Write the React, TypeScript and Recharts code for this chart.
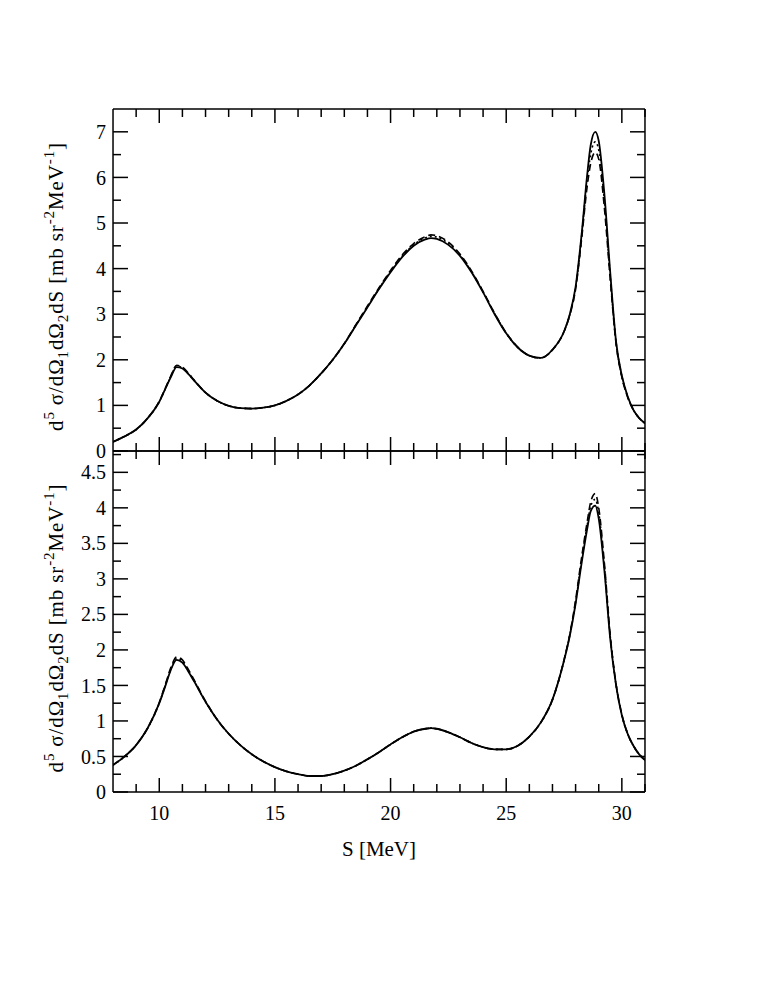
import React from 'react';
import { LineChart, Line, XAxis, YAxis, Label } from 'recharts';

// energy grid S [MeV]
const sGrid = [
  8, 8.5, 9, 9.5, 10, 10.25, 10.5, 10.75, 11, 11.25, 11.5, 12, 12.5, 13, 13.5, 14, 14.5, 15, 15.5, 16,
  16.5, 17, 17.5, 18, 18.5, 19, 19.5, 20, 20.5, 21, 21.5, 21.75, 22, 22.5, 23, 23.5, 24, 24.5, 25, 25.5,
  26, 26.5, 27, 27.5, 27.75, 28, 28.25, 28.5, 28.65, 28.85, 29, 29.25, 29.5, 29.75, 30, 30.25, 30.5, 30.75, 31,
];

const topSolid = [
  0.2, 0.32, 0.47, 0.72, 1.08, 1.35, 1.62, 1.84, 1.81, 1.69, 1.55, 1.28, 1.1, 0.99, 0.94, 0.93, 0.95, 1.0, 1.1, 1.24,
  1.44, 1.7, 2.0, 2.35, 2.75, 3.15, 3.55, 3.92, 4.25, 4.5, 4.64, 4.67, 4.65, 4.52, 4.28, 3.92, 3.48, 3.0, 2.58, 2.27,
  2.09, 2.04, 2.22, 2.62, 3.0, 3.6, 4.7, 6.05, 6.7, 7.0, 6.8, 5.6, 3.9, 2.4, 1.65, 1.2, 0.9, 0.72, 0.61,
];
const topDashed = [
  0.2, 0.32, 0.47, 0.72, 1.09, 1.36, 1.65, 1.88, 1.84, 1.71, 1.56, 1.28, 1.1, 0.99, 0.94, 0.93, 0.95, 1.0, 1.1, 1.24,
  1.44, 1.7, 2.0, 2.36, 2.77, 3.18, 3.58, 3.96, 4.3, 4.55, 4.7, 4.74, 4.72, 4.58, 4.32, 3.95, 3.5, 3.02, 2.59, 2.28,
  2.09, 2.04, 2.22, 2.62, 2.98, 3.55, 4.6, 5.8, 6.3, 6.55, 6.4, 5.3, 3.75, 2.35, 1.62, 1.18, 0.9, 0.72, 0.61,
];
const topDotted = [
  0.2, 0.32, 0.47, 0.72, 1.08, 1.35, 1.63, 1.86, 1.82, 1.7, 1.55, 1.28, 1.1, 0.99, 0.94, 0.93, 0.95, 1.0, 1.1, 1.24,
  1.44, 1.7, 2.0, 2.35, 2.76, 3.16, 3.56, 3.94, 4.27, 4.52, 4.67, 4.71, 4.69, 4.55, 4.3, 3.93, 3.49, 3.01, 2.58, 2.27,
  2.09, 2.04, 2.22, 2.62, 2.99, 3.57, 4.65, 5.95, 6.5, 6.78, 6.6, 5.45, 3.82, 2.38, 1.64, 1.19, 0.9, 0.72, 0.61,
];

const botSolid = [
  0.38, 0.5, 0.66, 0.9, 1.25, 1.48, 1.72, 1.86, 1.82, 1.7, 1.56, 1.27, 1.02, 0.82, 0.66, 0.53, 0.43, 0.35, 0.29, 0.25,
  0.225, 0.225, 0.25, 0.3, 0.37, 0.46, 0.56, 0.67, 0.77, 0.85, 0.89, 0.9, 0.89, 0.84, 0.77, 0.69, 0.63, 0.6, 0.6, 0.65,
  0.78, 0.98, 1.3, 1.85, 2.2, 2.65, 3.2, 3.7, 3.95, 4.03, 3.85, 3.1, 2.15, 1.5, 1.08, 0.82, 0.65, 0.53, 0.45,
];
const botDashed = [
  0.38, 0.5, 0.66, 0.9, 1.26, 1.5, 1.75, 1.9, 1.86, 1.73, 1.58, 1.28, 1.02, 0.82, 0.66, 0.53, 0.43, 0.35, 0.29, 0.25,
  0.225, 0.225, 0.25, 0.3, 0.37, 0.46, 0.56, 0.67, 0.77, 0.85, 0.89, 0.9, 0.89, 0.84, 0.77, 0.69, 0.63, 0.6, 0.6, 0.65,
  0.78, 0.98, 1.3, 1.86, 2.22, 2.7, 3.28, 3.8, 4.08, 4.2, 4.0, 3.2, 2.2, 1.52, 1.09, 0.82, 0.65, 0.53, 0.45,
];
const botDotted = [
  0.38, 0.5, 0.66, 0.9, 1.25, 1.49, 1.73, 1.88, 1.84, 1.71, 1.57, 1.27, 1.02, 0.82, 0.66, 0.53, 0.43, 0.35, 0.29, 0.25,
  0.225, 0.225, 0.25, 0.3, 0.37, 0.46, 0.56, 0.67, 0.77, 0.85, 0.89, 0.9, 0.89, 0.84, 0.77, 0.69, 0.63, 0.6, 0.6, 0.65,
  0.78, 0.98, 1.3, 1.85, 2.21, 2.67, 3.24, 3.75, 4.02, 4.12, 3.93, 3.15, 2.18, 1.51, 1.08, 0.82, 0.65, 0.53, 0.45,
];

const xMajor = [10, 15, 20, 25, 30];
const xMinor = [9, 11, 12, 13, 14, 16, 17, 18, 19, 21, 22, 23, 24, 26, 27, 28, 29, 31];
const topYMajor = [0, 1, 2, 3, 4, 5, 6, 7];
const topYMinor = [0.5, 1.5, 2.5, 3.5, 4.5, 5.5, 6.5];
const botYMajor = [0, 0.5, 1, 1.5, 2, 2.5, 3, 3.5, 4, 4.5];
const botYMinor = [0.25, 0.75, 1.25, 1.75, 2.25, 2.75, 3.25, 3.75, 4.25, 4.75];

const FONT = '"Liberation Serif", "Times New Roman", serif';
const FS = 20;
const ink = { stroke: '#000', strokeWidth: 1.5 };
const tickText = { fill: '#000', fontSize: FS, fontFamily: FONT };
const THIN = 0.01; // axes must have a size > 0 to be drawn
const noLabel = () => <g />; // keep the tick line, drop the text

const makeRows = (a: number[], b: number[], c: number[]) =>
  sGrid.map((s, i) => ({ s, solid: a[i], dashed: b[i], dotted: c[i] }));

const topRows = makeRows(topSolid, topDashed, topDotted);
const botRows = makeRows(botSolid, botDashed, botDotted);

const YTitle = ({ viewBox }: any) => {
  const x = viewBox.x - 50;
  const y = viewBox.y + viewBox.height / 2 + 7;
  const sm = 15;
  return (
    <text x={x} y={y} transform={`rotate(-90 ${x} ${y})`} textAnchor="middle" fontFamily={FONT} fontSize={21}
      fill="#000" textLength={288} lengthAdjust="spacing">
      d<tspan dy={-9} fontSize={sm}>5</tspan>
      <tspan dy={9}> σ/dΩ</tspan>
      <tspan dy={5} fontSize={sm}>1</tspan>
      <tspan dy={-5}>dΩ</tspan>
      <tspan dy={5} fontSize={sm}>2</tspan>
      <tspan dy={-5}>dS [mb sr</tspan>
      <tspan dy={-9} fontSize={sm}>-2</tspan>
      <tspan dy={9}>MeV</tspan>
      <tspan dy={-9} fontSize={sm}>-1</tspan>
      <tspan dy={9}>]</tspan>
    </text>
  );
};

const XTitle = ({ viewBox }: any) => (
  <text x={viewBox.x + viewBox.width / 2} y={viewBox.y + 64} textAnchor="middle" fontFamily={FONT} fontSize={21} fill="#000">
    S [MeV]
  </text>
);

type PanelProps = {
  rows: any[];
  height: number;
  top: number;
  bottom: number;
  yMax: number;
  yMajor: number[];
  yMinor: number[];
  showX: boolean;
};

const Panel = ({ rows, height, top, bottom, yMax, yMajor, yMinor, showX }: PanelProps) => (
  <LineChart width={758} height={height} data={rows} margin={{ top, bottom, left: 113, right: 113 }}>
    <XAxis xAxisId="b" orientation="bottom" type="number" dataKey="s" domain={[8, 31]} allowDataOverflow
      ticks={xMajor} interval={0} height={THIN} tickSize={-14} tickMargin={28}
      tick={showX ? tickText : noLabel} axisLine={ink} tickLine={ink}>
      {showX && <Label content={<XTitle />} />}
    </XAxis>
    <XAxis xAxisId="bm" orientation="bottom" type="number" dataKey="s" domain={[8, 31]} allowDataOverflow
      ticks={xMinor} interval={0} height={THIN} tickSize={-8} tick={noLabel} axisLine={false} tickLine={ink} />
    <XAxis xAxisId="t" orientation="top" type="number" dataKey="s" domain={[8, 31]} allowDataOverflow
      ticks={xMajor} interval={0} height={THIN} tickSize={-14} tick={noLabel} axisLine={ink} tickLine={ink} />
    <XAxis xAxisId="tm" orientation="top" type="number" dataKey="s" domain={[8, 31]} allowDataOverflow
      ticks={xMinor} interval={0} height={THIN} tickSize={-8} tick={noLabel} axisLine={false} tickLine={ink} />
    <YAxis yAxisId="l" orientation="left" type="number" domain={[0, yMax]} allowDataOverflow
      ticks={yMajor} interval={0} width={THIN} tickSize={-15} tickMargin={22}
      tick={tickText} axisLine={ink} tickLine={ink}>
      <Label content={<YTitle />} />
    </YAxis>
    <YAxis yAxisId="lm" orientation="left" type="number" domain={[0, yMax]} allowDataOverflow
      ticks={yMinor} interval={0} width={THIN} tickSize={-8} tick={noLabel} axisLine={false} tickLine={ink} />
    <YAxis yAxisId="r" orientation="right" type="number" domain={[0, yMax]} allowDataOverflow
      ticks={yMajor} interval={0} width={THIN} tickSize={-15} tick={noLabel} axisLine={ink} tickLine={ink} />
    <YAxis yAxisId="rm" orientation="right" type="number" domain={[0, yMax]} allowDataOverflow
      ticks={yMinor} interval={0} width={THIN} tickSize={-8} tick={noLabel} axisLine={false} tickLine={ink} />
    <Line xAxisId="b" yAxisId="l" type="monotone" dataKey="dotted" stroke="#000" strokeWidth={1.6}
      strokeDasharray="2 3" dot={false} isAnimationActive={false} />
    <Line xAxisId="b" yAxisId="l" type="monotone" dataKey="dashed" stroke="#000" strokeWidth={1.6}
      strokeDasharray="7 4" dot={false} isAnimationActive={false} />
    <Line xAxisId="b" yAxisId="l" type="monotone" dataKey="solid" stroke="#000" strokeWidth={1.8}
      dot={false} isAnimationActive={false} />
  </LineChart>
);

export default function App() {
  return (
    <div style={{ position: 'absolute', left: 0, top: 0, width: 758, height: 981, background: '#fff', fontFamily: FONT, fontSize: FS }}>
      <style>{`.recharts-cartesian-axis-tick-value { font-family: ${FONT}; font-size: ${FS}px; fill: #000; }`}</style>
      <div style={{ position: 'absolute', left: 0, top: 0 }}>
        <Panel rows={topRows} height={470} top={109} bottom={19} yMax={7.5}
          yMajor={topYMajor} yMinor={topYMinor} showX={false} />
      </div>
      <div style={{ position: 'absolute', left: 0, top: 0 }}>
        <Panel rows={botRows} height={900} top={451} bottom={108} yMax={4.8}
          yMajor={botYMajor} yMinor={botYMinor} showX />
      </div>
    </div>
  );
}
